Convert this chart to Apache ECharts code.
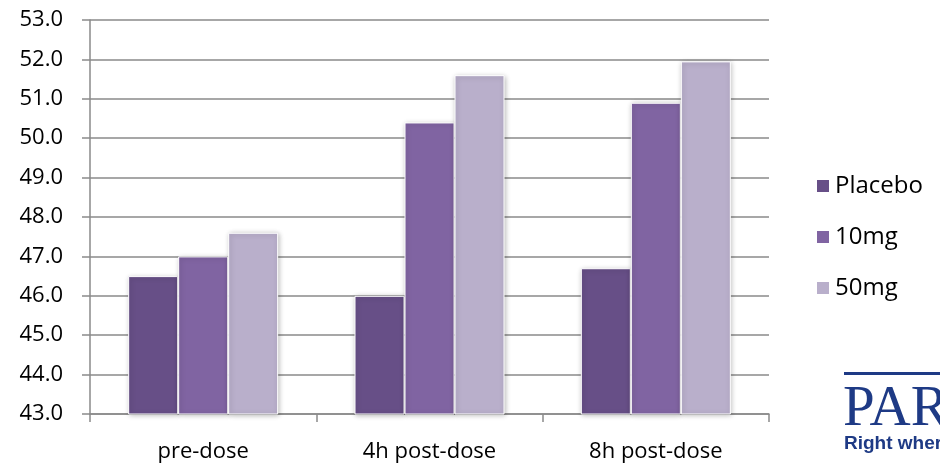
<!DOCTYPE html>
<html>
<head>
<meta charset="utf-8">
<script src="https://cdn.jsdelivr.net/npm/echarts@6/dist/echarts.min.js"></script>
<style>
  html, body { margin: 0; padding: 0; background: #ffffff; }
  #chart { width: 940px; height: 463px; }
</style>
</head>
<body>
<div id="chart"></div>
<script>
// Time points and dose groups
const categories = ['pre-dose', '4h post-dose', '8h post-dose'];
const seriesNames = ['Placebo', '10mg', '50mg'];
const placebo = [46.5, 46.0, 46.7];
const dose10mg = [47.0, 50.4, 50.9];
const dose50mg = [47.6, 51.6, 51.95];
const yMin = 43.0;
const yMax = 53.0;
const yStep = 1.0;

const colors = ['#674F87', '#8064A2', '#B9AFCB'];
const values = [placebo, dose10mg, dose50mg];
const fontFamily = '"Open Sans", "DejaVu Sans", sans-serif';
const logoBlue = '#1E3A85';

const chart = echarts.init(document.getElementById('chart'), null, { renderer: 'canvas' });

chart.setOption({
  animation: false,
  backgroundColor: '#ffffff',
  grid: { left: 90, right: 171, top: 20, bottom: 48, containLabel: false },
  legend: {
    orient: 'vertical',
    left: 810,
    top: 169,
    itemWidth: 14,
    itemHeight: 14,
    itemGap: 27,
    icon: 'rect',
    textStyle: { fontFamily: fontFamily, fontSize: 24, color: '#000000', padding: [0, 0, 0, 0] },
    data: seriesNames
  },
  xAxis: {
    type: 'category',
    data: categories,
    axisLine: { lineStyle: { color: '#8A8A8A', width: 1.5 } },
    axisTick: { show: true, length: 8, inside: false, lineStyle: { color: '#8A8A8A', width: 1.5 } },
    axisLabel: { fontFamily: fontFamily, fontSize: 22, color: '#000000', margin: 27 },
    splitLine: { show: false }
  },
  yAxis: {
    type: 'value',
    min: yMin,
    max: yMax,
    interval: yStep,
    axisLine: { show: true, lineStyle: { color: '#8A8A8A', width: 1.5 } },
    axisTick: { show: true, length: 8, lineStyle: { color: '#8A8A8A', width: 1.5 } },
    axisLabel: {
      fontFamily: fontFamily, fontSize: 22, color: '#000000', margin: 27,
      formatter: v => v.toFixed(1)
    },
    splitLine: { show: true, lineStyle: { color: '#8A8A8A', width: 1.5 } }
  },
  series: seriesNames.map((name, i) => ({
    name: name,
    type: 'bar',
    data: values[i],
    barWidth: 50,
    barGap: '0%',
    itemStyle: {
      color: colors[i],
      borderColor: '#ffffff',
      borderWidth: 1,
      shadowBlur: 5,
      shadowColor: 'rgba(0,0,0,0.28)',
      shadowOffsetX: 1,
      shadowOffsetY: 1
    }
  })),
  graphic: [
    // Company logo in the lower right corner
    {
      type: 'rect',
      z: 100,
      left: 844,
      top: 372,
      shape: { width: 100, height: 3 },
      style: { fill: logoBlue }
    },
    {
      type: 'text',
      z: 100,
      left: 843,
      top: 382,
      style: {
        text: 'PAR',
        font: '57px "Liberation Serif", "DejaVu Serif", serif',
        fill: logoBlue
      }
    },
    {
      type: 'text',
      z: 100,
      left: 844,
      top: 434,
      style: {
        text: 'Right wher',
        font: 'bold 19px "Liberation Sans", Arial, sans-serif',
        fill: logoBlue
      }
    }
  ]
});
</script>
</body>
</html>
